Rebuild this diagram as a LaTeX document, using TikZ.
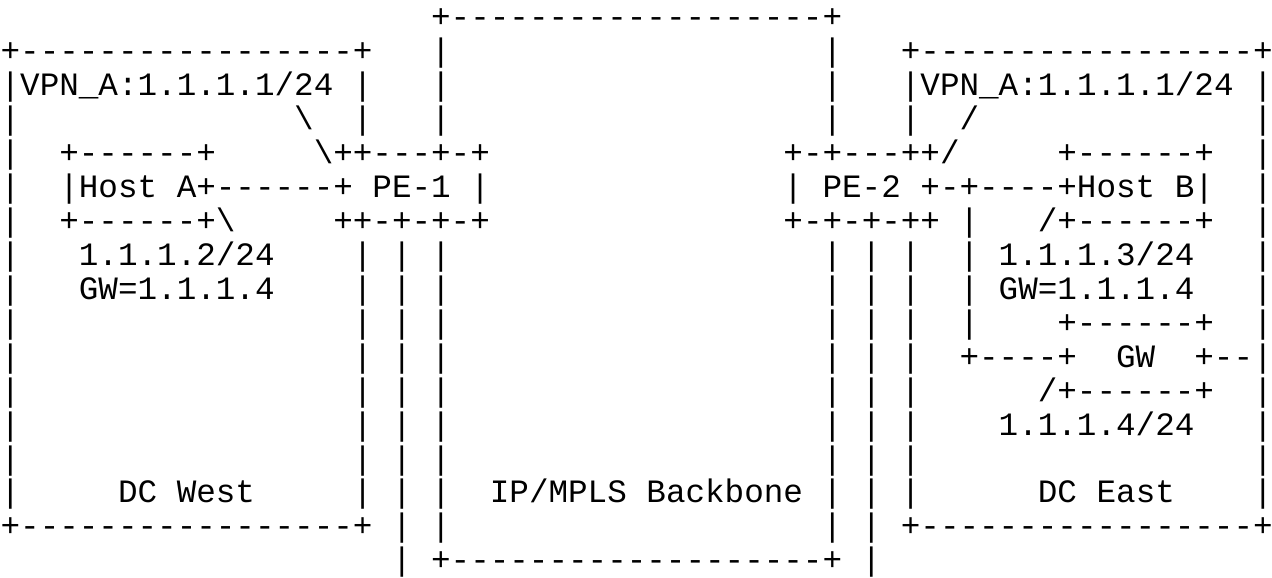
\documentclass[tikz,border=0pt]{standalone}
\usepackage{fontspec}
\usepackage{tikz}
\newfontfamily\asciifont{Liberation Mono}[Ligatures=TeXOff]
\newdimen\chw
\chw=6pt
\newcommand{\chgap}[1]{\kern#1\chw}
\tikzset{
  row/.style={anchor=base west, inner sep=0pt,
    font=\asciifont\fontsize{10}{10}\selectfont\frenchspacing}
}
\begin{document}
\begin{tikzpicture}[x=6pt, y=10.42pt]
    \fill[white] (0,0) rectangle (65,-17);
    \useasboundingbox (0,0) rectangle (65,-17);

    % backbone top, DC boxes top
    \node[row] (r1) at (0,-0.8) {\chgap{22}+-------------------+};
    \node[row] (r2) at (0,-1.8) {+-----------------+\chgap{3}|\chgap{19}|\chgap{3}+-----------------+};
    \node[row] (r3) at (0,-2.8) {|VPN\_A:1.1.1.1/24\chgap{1}|\chgap{3}|\chgap{19}|\chgap{3}|VPN\_A:1.1.1.1/24\chgap{1}|};
    \node[row] (r4) at (0,-3.8) {|\chgap{14}\textbackslash\chgap{2}|\chgap{3}|\chgap{19}|\chgap{3}|\chgap{2}/\chgap{14}|};

    % hosts and PEs
    \node[row] (r5) at (0,-4.8) {|\chgap{2}+------+\chgap{5}\textbackslash++---+-+\chgap{15}+-+---++/\chgap{5}+------+\chgap{2}|};
    \node[row] (r6) at (0,-5.8) {|\chgap{2}|Host\chgap{1}A+------+\chgap{1}PE-1\chgap{1}|\chgap{15}|\chgap{1}PE-2\chgap{1}+-+----+Host\chgap{1}B|\chgap{2}|};
    \node[row] (r7) at (0,-6.8) {|\chgap{2}+------+\textbackslash\chgap{5}++-+-+-+\chgap{15}+-+-+-++\chgap{1}|\chgap{3}/+------+\chgap{2}|};
    \node[row] (r8) at (0,-7.8) {|\chgap{3}1.1.1.2/24\chgap{4}|\chgap{1}|\chgap{1}|\chgap{19}|\chgap{1}|\chgap{1}|\chgap{2}|\chgap{1}1.1.1.3/24\chgap{3}|};
    \node[row] (r9) at (0,-8.8) {|\chgap{3}GW=1.1.1.4\chgap{4}|\chgap{1}|\chgap{1}|\chgap{19}|\chgap{1}|\chgap{1}|\chgap{2}|\chgap{1}GW=1.1.1.4\chgap{3}|};

    % gateway
    \node[row] (r10) at (0,-9.8) {|\chgap{17}|\chgap{1}|\chgap{1}|\chgap{19}|\chgap{1}|\chgap{1}|\chgap{2}|\chgap{4}+------+\chgap{2}|};
    \node[row] (r11) at (0,-10.8) {|\chgap{17}|\chgap{1}|\chgap{1}|\chgap{19}|\chgap{1}|\chgap{1}|\chgap{2}+----+\chgap{2}GW\chgap{2}+--|};
    \node[row] (r12) at (0,-11.8) {|\chgap{17}|\chgap{1}|\chgap{1}|\chgap{19}|\chgap{1}|\chgap{1}|\chgap{6}/+------+\chgap{2}|};
    \node[row] (r13) at (0,-12.8) {|\chgap{17}|\chgap{1}|\chgap{1}|\chgap{19}|\chgap{1}|\chgap{1}|\chgap{4}1.1.1.4/24\chgap{3}|};
    \node[row] (r14) at (0,-13.8) {|\chgap{17}|\chgap{1}|\chgap{1}|\chgap{19}|\chgap{1}|\chgap{1}|\chgap{17}|};

    % box names and bottoms
    \node[row] (r15) at (0,-14.8) {|\chgap{5}DC\chgap{1}West\chgap{5}|\chgap{1}|\chgap{1}|\chgap{2}IP/MPLS\chgap{1}Backbone\chgap{1}|\chgap{1}|\chgap{1}|\chgap{6}DC\chgap{1}East\chgap{4}|};
    \node[row] (r16) at (0,-15.8) {+-----------------+\chgap{1}|\chgap{1}|\chgap{19}|\chgap{1}|\chgap{1}+-----------------+};
    \node[row] (r17) at (0,-16.8) {\chgap{20}|\chgap{1}+-------------------+\chgap{1}|};
\end{tikzpicture}
\end{document}
